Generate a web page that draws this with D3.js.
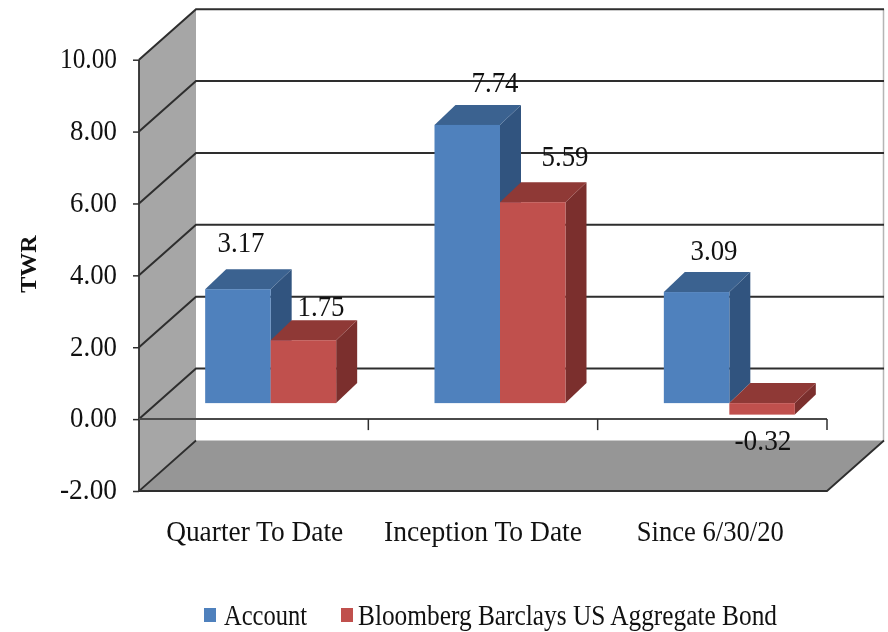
<!DOCTYPE html>
<html><head><meta charset="utf-8">
<script src="https://cdn.jsdelivr.net/npm/d3@7"></script>
<style>
html,body{margin:0;padding:0;background:#fff}
svg{display:block;filter:blur(0.7px)}
text{font-family:"Liberation Serif",serif;fill:#111}
</style></head><body><svg id="c" width="888" height="632"></svg>
<script>
const categories=["Quarter To Date","Inception To Date","Since 6/30/20"];
const seriesNames=["Account","Bloomberg Barclays US Aggregate Bond"];
const account=[3.17,7.74,3.09];
const benchmark=[1.75,5.59,-0.32];
const yTicks=[-2,0,2,4,6,8,10];

const colors=[{f:"#4f81bd",t:"#3b6290",s:"#31547f"},{f:"#c0504d",t:"#8f3936",s:"#7b2f2d"}];
const svg=d3.select("#c");
const x0=139,x1=827,wallDx=57,wallDy=-50.5,barDx=21,barDy=-20,baseDx=17,baseDy=-16;
const y=d3.scaleLinear().domain([-2,10]).range([491,59.7]);
const x=d3.scaleBand().domain(categories).range([x0,x1]);
const bw=65.5;
const pts=a=>a.map(p=>p.join(",")).join(" ");
const line="#2e2e2e";
const fmt=v=>d3.format(".2f")(v).replace("\u2212","-");

// walls
svg.append("polygon").attr("points",pts([[x0,y(-2)],[x0,y(10)],[x0+wallDx,y(10)+wallDy],[x0+wallDx,y(-2)+wallDy]])).attr("fill","#a6a6a6");
svg.append("polygon").attr("points",pts([[x0,y(-2)],[x0+wallDx,y(-2)+wallDy],[x1+wallDx,y(-2)+wallDy],[x1,y(-2)]])).attr("fill","#969696");
svg.append("line").attr("x1",x1+wallDx-.5).attr("x2",x1+wallDx-.5).attr("y1",y(10)+wallDy).attr("y2",y(-2)+wallDy).attr("stroke","#b5b5b5").attr("stroke-width",1.5);
// grid
yTicks.filter(v=>v>-2).forEach(v=>{
  svg.append("polyline").attr("points",pts([[x0,y(v)],[x0+wallDx,y(v)+wallDy],[x1+wallDx,y(v)+wallDy]])).attr("fill","none").attr("stroke",line).attr("stroke-width",2);
});
svg.append("polyline").attr("points",pts([[x0+wallDx,y(-2)+wallDy],[x0,y(-2)],[x1,y(-2)],[x1+wallDx,y(-2)+wallDy]])).attr("fill","none").attr("stroke",line).attr("stroke-width",1.8);

// bars
const rows=categories.map((c,i)=>({c,vals:[account[i],benchmark[i]]}));
rows.forEach(r=>{
  const cx=x(r.c)+x.bandwidth()/2+baseDx;
  [0,1].forEach(k=>{
    const v=r.vals[k],c=colors[k];
    const l=cx+(k-1)*bw,rr=l+bw;
    const top=Math.min(y(v),y(0))+baseDy,bot=Math.max(y(v),y(0))+baseDy;
    const g=svg.append("g");
    g.append("polygon").attr("points",pts([[rr,top],[rr+barDx,top+barDy],[rr+barDx,bot+barDy],[rr,bot]])).attr("fill",c.s);
    g.append("polygon").attr("points",pts([[l,top],[l+barDx,top+barDy],[rr+barDx,top+barDy],[rr,top]])).attr("fill",c.t);
    g.append("rect").attr("x",l).attr("y",top).attr("width",bw).attr("height",bot-top).attr("fill",c.f);
  });
});

function fit(sel,w){return sel.attr("textLength",w).attr("lengthAdjust","spacingAndGlyphs");}

// y axis
const yAxis=svg.append("g").attr("transform",`translate(${x0},0)`).call(d3.axisLeft(y).tickValues(yTicks).tickFormat(fmt).tickSize(6).tickPadding(16));
yAxis.select(".domain").attr("stroke",line).attr("stroke-width",1.8).attr("d",`M0,${y(10)}V${y(-2)}`);
yAxis.selectAll(".tick line").attr("stroke",line).attr("stroke-width",1.5);
yAxis.selectAll(".tick text").attr("font-family",null).style("font-size","29px").attr("dy","0.27em").each(function(d){
  fit(d3.select(this),d<0?57:(d>=10?57:47));
});
// x axis at zero
const xAxis=svg.append("g").attr("transform",`translate(0,${y(0)})`).call(d3.axisBottom(x).tickValues([]).tickSize(0));
xAxis.select(".domain").attr("stroke","#4a4a4a").attr("stroke-width",2).attr("d",`M${x0},0H${x1}`);
categories.forEach(c=>{
  const t=x(c)+x.bandwidth();
  svg.append("line").attr("x1",t).attr("x2",t).attr("y1",y(0)).attr("y2",y(0)+11).attr("stroke",line).attr("stroke-width",1.5);
});
// category labels
const catWidths=[177,198,147];
const catShift=[1,0,-2];
categories.forEach((c,i)=>{
  fit(svg.append("text").attr("x",x(c)+x.bandwidth()/2+catShift[i]).attr("y",541).attr("text-anchor","middle").style("font-size","29px").text(c),catWidths[i]);
});
// data labels
const labelAt=[[[241,252],[321,316]],[[495,92],[565,166]],[[714,260],[763,450]]];
rows.forEach((r,i)=>r.vals.forEach((v,k)=>{
  fit(svg.append("text").attr("x",labelAt[i][k][0]).attr("y",labelAt[i][k][1]).attr("text-anchor","middle").style("font-size","29px").text(fmt(v)),v<0?57:47);
}));
// axis title
svg.append("text").attr("transform","translate(36,264) rotate(-90)").attr("text-anchor","middle").style("font-size","24px").style("font-weight","bold").text("TWR");
// legend
const lg=[{sx:204,tx:224,tw:83},{sx:341,tx:358,tw:419}];
seriesNames.forEach((n,i)=>{
  svg.append("rect").attr("x",lg[i].sx).attr("y",608).attr("width",12).attr("height",14).attr("fill",colors[i].f);
  fit(svg.append("text").attr("x",lg[i].tx).attr("y",625).style("font-size","29px").text(n),lg[i].tw);
});
</script></body></html>
